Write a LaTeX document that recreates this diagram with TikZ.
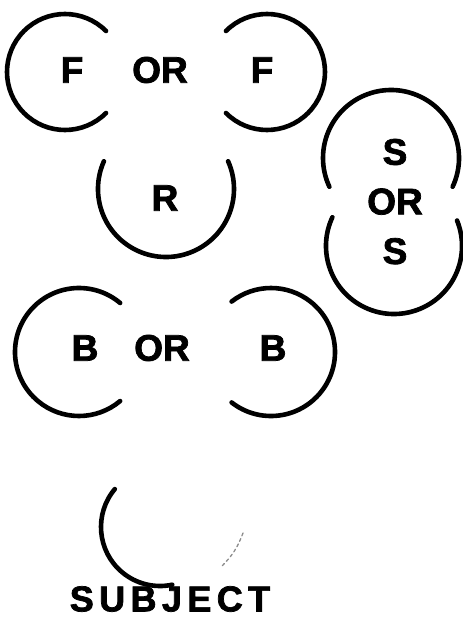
\documentclass[tikz,border=0pt]{standalone}
\usepackage{fontspec}
\setmainfont{Liberation Sans}[FakeBold=2]
\usetikzlibrary{positioning}
\tikzset{
  ring/.style ={line width=4.6pt, line cap=round, draw=black},
  faint/.style={line width=1.3pt, line cap=round, draw=black!45, dashed},
  lt/.style   ={font=\fontsize{37}{40}\selectfont\bfseries, inner sep=0pt},
  subj/.style ={font=\fontsize{36}{40}\selectfont\bfseries\addfontfeatures{LetterSpace=15}, inner sep=0pt}
}
\begin{document}
\begin{tikzpicture}[x=1pt,y=1pt]
  \useasboundingbox (0,0) rectangle (463,-629);
  \node[lt] (f1)  at (72,-70)  {F};
  \node[lt] (or1) at (160,-70) {OR};
  \node[lt] (f2)  at (262,-70) {F};
  \node[lt] (r)   at (165,-198) {R};
  \node[lt] (s1)  at (395,-152) {S};
  \node[lt,below=23pt of s1]  (or2) {OR};
  \node[lt,below=23pt of or2] (s2)  {S};
  \node[lt] (b1)  at (85,-348)  {B};
  \node[lt] (or3) at (162,-348) {OR};
  \node[lt] (b2)  at (273,-348) {B};
  \node[subj] (subject) at (170,-599) {SUBJECT};
  \coordinate (cf1) at (65,-72);
  \coordinate (cf2) at (267,-72);
  \coordinate (cr)  at (166,-189);
  \coordinate (cs1) at (391,-158);
  \coordinate (cs2) at (394,-246);
  \coordinate (cb1) at (79,-352);
  \coordinate (cb2) at (271,-352);
  \coordinate (csu) at (160,-527);
  \coordinate (fa)  at (243,-533);
  \coordinate (fb)  at (222,-566);
  \draw[ring] ([shift={(45:58)}]cf1) arc[start angle=45,end angle=315,radius=58];
  \draw[ring] ([shift={(-135:58)}]cf2) arc[start angle=-135,end angle=135,radius=58];
  \draw[ring] ([shift={(156:68)}]cr) arc[start angle=156,end angle=384,radius=68];
  \draw[ring] ([shift={(-25:68)}]cs1) arc[start angle=-25,end angle=205,radius=68];
  \draw[ring] ([shift={(155:68)}]cs2) arc[start angle=155,end angle=382,radius=68];
  \draw[ring] ([shift={(50:64)}]cb1) arc[start angle=50,end angle=310,radius=64];
  \draw[ring] ([shift={(-128:64)}]cb2) arc[start angle=-128,end angle=128,radius=64];
  \draw[ring] ([shift={(140:59)}]csu) arc[start angle=140,end angle=282,radius=59];
  \draw[faint] (fa) to[bend left=12] (fb);
\end{tikzpicture}
\end{document}
